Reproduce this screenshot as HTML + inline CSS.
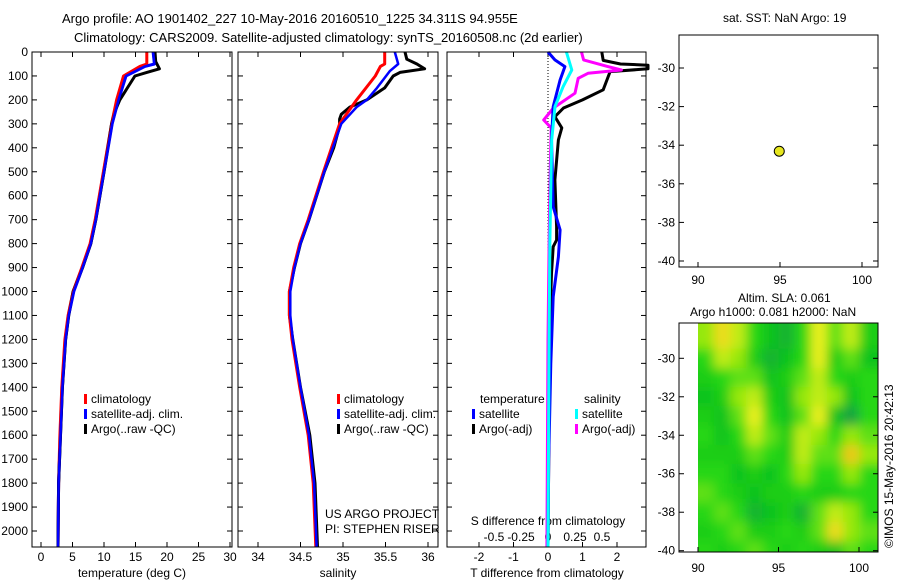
<!DOCTYPE html>
<html><head><meta charset="utf-8"><style>
html,body{margin:0;padding:0;background:#fff;}
svg{display:block;font-family:"Liberation Sans",Arial,sans-serif;}
</style></head><body>
<svg id="c" width="900" height="580" viewBox="0 0 900 580">
<defs>
<filter id="blur" x="-10%" y="-10%" width="120%" height="120%"><feGaussianBlur stdDeviation="5.5"/></filter>
<clipPath id="heatclip"><rect x="698" y="323" width="180" height="229"/></clipPath>
</defs>
<text x="62" y="23" font-size="13">Argo profile: AO 1901402_227 10-May-2016 20160510_1225 34.311S 94.955E</text>
<text x="74" y="42" font-size="13">Climatology: CARS2009. Satellite-adjusted climatology: synTS_20160508.nc (2d earlier)</text>
<text x="723" y="22" font-size="12">sat. SST: NaN Argo: 19</text>
<text x="738" y="302" font-size="12">Altim. SLA: 0.061</text>
<text x="690" y="316" font-size="12">Argo h1000: 0.081 h2000: NaN</text>
<text x="0" y="0" font-size="12" transform="translate(893,548) rotate(-90)">©IMOS 15-May-2016 20:42:13</text>
<g id="g"></g>
</svg>
<script>
// ---- data ----
const depthTicks=[0,100,200,300,400,500,600,700,800,900,1000,1100,1200,1300,1400,1500,1600,1700,1800,1900,2000];
const tempTicks=[0,5,10,15,20,25,30];
const salTicks=[34,34.5,35,35.5,36];
const salTickLabels=["34","34.5","35","35.5","36"];
const tdTicks=[-2,-1,0,1,2];
const sdTicks=[-0.5,-0.25,0,0.25,0.5];
const sdTickLabels=["-0.5","-0.25","0","0.25","0.5"];

const climDepth=[0,50,60,100,200,300,500,700,800,900,1000,1100,1200,1400,1600,1800,2065];
const tClim=[16.8,16.8,15.7,13.1,12.0,11.2,9.9,8.6,7.8,6.5,5.1,4.3,3.8,3.3,3.0,2.8,2.7];
const tSat=[17.8,18.0,16.5,13.5,12.3,11.3,10.0,8.7,7.9,6.6,5.2,4.4,3.9,3.4,3.1,2.8,2.7];
const argoDepth=[0,40,70,85,100,200,250,300,500,700,800,900,1000,1100,1200,1400,1600,1800,2065];
const tArgo=[18.1,18.2,18.8,16.8,14.9,12.5,11.7,11.2,10.0,8.7,7.9,6.6,5.1,4.4,3.9,3.4,3.1,2.8,2.7];

const sClim=[35.49,35.49,35.44,35.38,35.16,34.96,34.77,34.59,34.49,34.42,34.37,34.37,34.40,34.49,34.59,34.65,34.68];
const sSatDepth=[0,50,80,150,200,230,300,400,500,700,800,900,1000,1100,1200,1400,1600,1800,2065];
const sSat=[35.61,35.65,35.55,35.40,35.28,35.16,34.98,34.88,34.78,34.60,34.50,34.43,34.38,34.38,34.41,34.50,34.60,34.66,34.69];
const sArgoDepth=[0,30,50,70,85,100,150,200,230,260,280,310,400,500,700,800,900,1000,1100,1200,1400,1600,1800,2065];
const sArgo=[35.73,35.75,35.87,35.96,35.67,35.59,35.49,35.28,35.08,34.98,34.96,34.96,34.89,34.78,34.60,34.50,34.43,34.37,34.37,34.41,34.50,34.61,34.67,34.70];

const tdArgoDepth=[0,35,50,55,70,82,158,200,234,270,317,367,534,730,785,813,923,1100,1400,1700,2065];
const tdArgo=[1.56,1.6,2.1,2.9,2.9,1.8,1.6,1.0,0.45,0.2,0.4,0.3,0.2,0.25,0.25,0.15,0.1,0.06,0.04,0.02,0.0];
const tdSatDepth=[0,33,61,117,228,367,646,743,855,1022,1300,1700,2065];
const tdSat=[0.0,0.2,0.49,0.35,0.15,0.1,0.15,0.35,0.3,0.15,0.08,0.02,0.0];
const sdSatDepth=[0,75,145,228,367,785,1200,2065];
const sdSat=[0.17,0.22,0.14,0.065,0.034,0.018,0.01,0.0];
const sdArgoDepth=[0,33,60,75,89,110,172,234,284,317,500,800,1200,2065];
const sdArgo=[0.31,0.33,0.55,0.68,0.37,0.28,0.25,0.05,-0.04,0.03,0.02,0.01,0.0,-0.01];

const mapLonTicks=[90,95,100];
const mapLatTicks=[-30,-32,-34,-36,-38,-40];
const argoLon=[94.955];
const argoLat=[-34.311];

const heatLons=[90.5,91.5,92.5,93.5,94.5,95.5,96.5,97.5,98.5,99.5,100.5];
const heatLats=[-29,-30,-31,-32,-33,-34,-35,-36,-37,-38,-39,-40];
const heatRow0=[0.7,1.0,0.8,0.5,0.3,0.2,0.5,0.9,0.6,0.8,0.4];
const heatRow1=[0.5,0.8,0.7,0.4,0.2,0.3,0.5,0.9,0.4,0.6,0.3];
const heatRow2=[0.4,0.5,0.6,0.6,0.3,0.4,0.6,0.8,0.5,0.4,0.5];
const heatRow3=[0.3,0.4,0.7,0.8,0.4,0.3,0.7,0.8,0.7,0.3,0.5];
const heatRow4=[0.4,0.3,0.6,0.9,0.5,0.3,0.6,0.9,0.3,0.1,0.5];
const heatRow5=[0.5,0.3,0.5,0.8,0.6,0.4,0.8,0.7,0.5,0.7,0.6];
const heatRow6=[0.4,0.4,0.4,0.6,0.5,0.4,0.8,0.6,0.6,1.1,0.7];
const heatRow7=[0.5,0.5,0.3,0.4,0.3,0.5,0.7,0.5,0.5,0.7,0.5];
const heatRow8=[0.6,0.5,0.4,0.3,0.4,0.4,0.5,0.4,0.4,0.5,0.5];
const heatRow9=[0.5,0.6,0.5,0.2,0.3,0.4,0.2,0.6,0.8,0.7,0.5];
const heatRow10=[0.4,0.5,0.6,0.4,0.4,0.5,0.4,0.6,1.0,0.7,0.6];
const heatRow11=[0.5,0.4,0.5,0.6,0.5,0.4,0.5,0.4,0.3,0.6,0.5];
const heatRows=[heatRow0,heatRow1,heatRow2,heatRow3,heatRow4,heatRow5,heatRow6,heatRow7,heatRow8,heatRow9,heatRow10,heatRow11];

// ---- scales ----
const NS='http://www.w3.org/2000/svg';
const G=document.getElementById('g');
const yD=d=>52+d*0.2395;
const xT=t=>41+t*6.3;
const xS=s=>258+(s-34)*85;
const xTD=v=>548+v*34.5;
const xSD=v=>548+v*108;
const mX=l=>698+(l-90)*16.4;
const mY=v=>68+(-30-v)*19.3;
const hX=l=>698+(l-90)*16.1;
const hY=v=>358.3+(-30-v)*19.24;

function mk(tag,attrs,parent){const e=document.createElementNS(NS,tag);for(const k in attrs)e.setAttribute(k,attrs[k]);(parent||G).appendChild(e);return e;}
function txt(x,y,s,anchor,size,name){const e=mk('text',{x:x,y:y,'font-size':size||12,'text-anchor':anchor||'start'});e.textContent=s;


return e;}
function line(x1,y1,x2,y2,name,dash){const e=mk('line',{x1:x1,y1:y1,x2:x2,y2:y2,stroke:'#000','stroke-width':1});if(dash)e.setAttribute('stroke-dasharray',dash);


return e;}
function series(depths,vals,xf,color,name,w){
  const pts=depths.map((d,i)=>Math.min(700,xf(vals[i])).toFixed(1)+','+yD(d).toFixed(1)).join(' ');
  const e=mk('polyline',{points:pts,fill:'none',stroke:color,'stroke-width':w||3,'stroke-linejoin':'round'});
  
  
}
function frame(x,y,w,h,name){const e=mk('rect',{x:x,y:y,width:w,height:h,fill:'none',stroke:'#000','stroke-width':1});

}

// ---- panel frames / depth ticks ----
const panels=[[32,232],[238,438],[447,646]];
panels.forEach((p,pi)=>{
  depthTicks.forEach(d=>{const y=yD(d);line(p[0],y,p[0]+5,y,'depth-tick');line(p[1]-5,y,p[1],y,'depth-tick');});
});
depthTicks.forEach(d=>txt(28,yD(d)+4,String(d),'end',12,'depth-tick-label'));

// panel 1
tempTicks.forEach(t=>{line(xT(t),52,xT(t),57,'temp-tick');line(xT(t),542,xT(t),547,'temp-tick');txt(xT(t),561,String(t),'middle',12,'temp-tick-label');});
txt(132,577,'temperature (deg C)','middle',12,'x-axis-title-temperature');
series(climDepth,tClim,xT,'#ff0000','temp-climatology-line');
series(climDepth,tSat,xT,'#0000ff','temp-satellite-line');
series(argoDepth,tArgo,xT,'#000000','temp-argo-line');
series(climDepth,tClim,xT,'#ff0000','temp-climatology-line',2);
series(climDepth,tSat,xT,'#0000ff','temp-satellite-line',2.5);

// panel 2
salTicks.forEach((s,i)=>{line(xS(s),52,xS(s),57,'sal-tick');line(xS(s),542,xS(s),547,'sal-tick');txt(xS(s),561,salTickLabels[i],'middle',12,'sal-tick-label');});
txt(338,577,'salinity','middle',12,'x-axis-title-salinity');
series(sArgoDepth,sArgo,xS,'#000000','sal-argo-line');
series(climDepth,sClim,xS,'#ff0000','sal-climatology-line');
series(sSatDepth,sSat,xS,'#0000ff','sal-satellite-line',2.5);

// panel 3
tdTicks.forEach(t=>{line(xTD(t),52,xTD(t),57,'tdiff-tick');line(xTD(t),542,xTD(t),547,'tdiff-tick');txt(xTD(t),561,String(t),'middle',12,'tdiff-tick-label');});
sdTicks.forEach((s,i)=>txt(xSD(s),541,sdTickLabels[i],'middle',12,'sdiff-tick-label'));
txt(547,577,'T difference from climatology','middle',12,'x-axis-title-tdiff');
txt(548,525,'S difference from climatology','middle',12,'x-axis-title-sdiff');
line(548,52,548,547,'zero-line','1,2');
series(tdArgoDepth,tdArgo,xTD,'#000000','tdiff-argo-line');
series(sdArgoDepth,sdArgo,xSD,'#ff00ff','sdiff-argo-line');
series(tdSatDepth,tdSat,xTD,'#0000ff','tdiff-satellite-line');
series(sdSatDepth,sdSat,xSD,'#00ffff','sdiff-satellite-line');

frame(32,52,200,495,'temperature-panel');
frame(238,52,200,495,'salinity-panel');
frame(447,52,199,495,'difference-panel');

// legends
function legItem(x,y,color,label,name){const r=mk('rect',{x:x,y:y-9,width:3,height:10,fill:color});


txt(x+7,y,label,'start',12,name+'-label');}
[[84,'temp-legend'],[337,'sal-legend']].forEach(([x,n])=>{
  legItem(x,403,'#ff0000','climatology',n+'-climatology');
  legItem(x,418,'#0000ff','satellite-adj. clim.',n+'-satellite');
  legItem(x,433,'#000000','Argo(..raw -QC)',n+'-argo');
});
txt(480,403,'temperature','start',12,'diff-legend-temperature-header');
txt(584,403,'salinity','start',12,'diff-legend-salinity-header');
legItem(472,418,'#0000ff','satellite','diff-legend-temp-satellite');
legItem(472,433,'#000000','Argo(-adj)','diff-legend-temp-argo');
legItem(575,418,'#00ffff','satellite','diff-legend-sal-satellite');
legItem(575,433,'#ff00ff','Argo(-adj)','diff-legend-sal-argo');
txt(325,518,'US ARGO PROJECT','start',12,'project-label');
txt(325,533,'PI: STEPHEN RISER','start',12,'pi-label');

// top map
frame(679,35,199,232,'location-map');
mapLonTicks.forEach(l=>{line(mX(l),262,mX(l),267,'map-lon-tick');txt(mX(l),284,String(l),'middle',12,'map-lon-label');});
mapLatTicks.forEach(v=>{line(679,mY(v),684,mY(v),'map-lat-tick');line(873,mY(v),878,mY(v),'map-lat-tick');txt(675,mY(v)+4,String(v),'end',12,'map-lat-label');});
argoLon.forEach((l,i)=>{const c=mk('circle',{cx:mX(l),cy:mY(argoLat[i]),r:5,fill:'#e6e61e',stroke:'#000','stroke-width':1});

});

// heatmap
function col(v){
  const stops=[[0,[25,145,85]],[0.3,[15,195,30]],[0.5,[40,215,20]],[0.7,[150,232,15]],[0.9,[235,240,30]],[1.15,[240,190,20]]];
  v=Math.max(0,Math.min(1.15,v));
  for(let i=0;i<stops.length-1;i++){const a=stops[i],b=stops[i+1];if(v<=b[0]){const f=(v-a[0])/(b[0]-a[0]);return 'rgb('+a[1].map((c,k)=>Math.round(c+(b[1][k]-c)*f)).join(',')+')';}}
  return 'rgb(240,190,20)';
}
const hg=mk('g',{'clip-path':'url(#heatclip)'});


const hb=mk('g',{filter:'url(#blur)'},hg);
heatLats.forEach((lat,r)=>{heatLons.forEach((lon,c)=>{
  let x0=hX(lon-0.5),x1=hX(lon+0.5),y0=hY(lat+0.5),y1=hY(lat-0.5);
  if(c===0)x0-=20; if(c===heatLons.length-1)x1+=30; if(r===0)y0-=30; if(r===heatLats.length-1)y1+=30;
  const e=mk('rect',{x:x0,y:y0,width:x1-x0+0.5,height:y1-y0+0.5,fill:col(heatRows[r][c])},hb);
  
  
});});
frame(679,323,199,229,'sla-map');
mapLonTicks.forEach(l=>{line(hX(l),547,hX(l),552,'heat-lon-tick');txt(hX(l),572,String(l),'middle',12,'heat-lon-label');});
mapLatTicks.forEach(v=>{line(679,hY(v),684,hY(v),'heat-lat-tick');line(873,hY(v),878,hY(v),'heat-lat-tick');txt(675,hY(v)+4,String(v),'end',12,'heat-lat-label');});
</script>
</body></html>
